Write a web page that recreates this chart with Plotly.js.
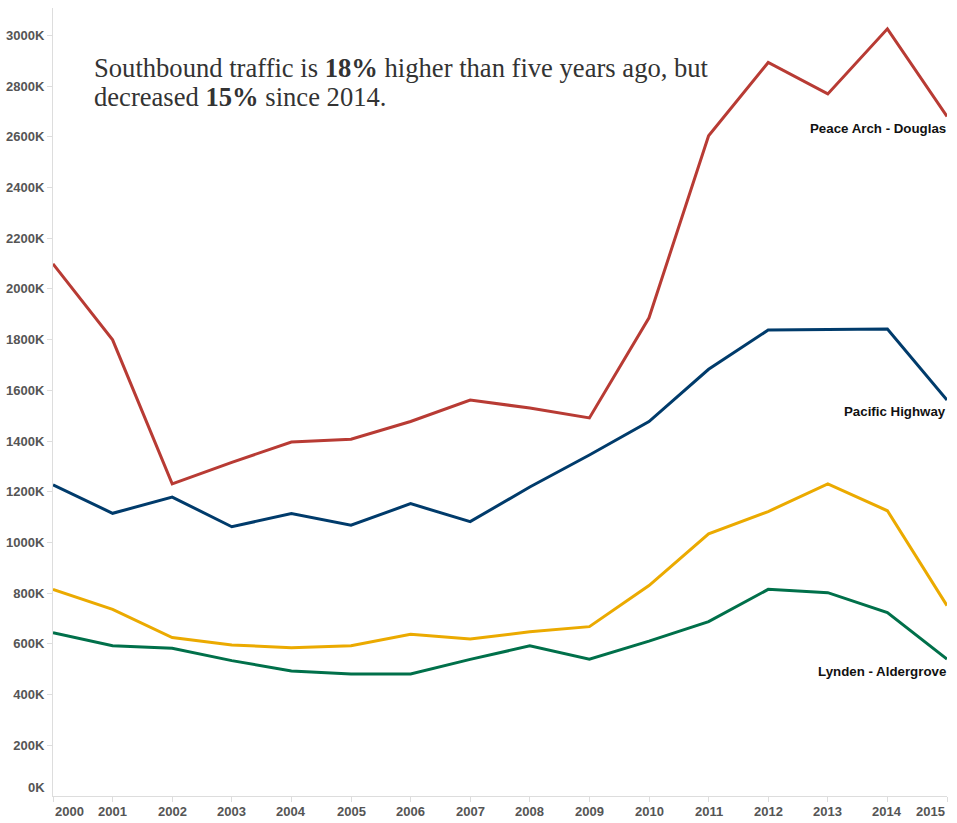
<!DOCTYPE html>
<html>
<head>
<meta charset="utf-8">
<script src="https://cdn.plot.ly/plotly-3.0.1.min.js"></script>
<style>html,body{margin:0;padding:0;background:#fff;}#chart{width:957px;height:823px;}</style>
</head>
<body>
<div id="chart"></div>
<script>
// Years (x categories)
const years = [2000, 2001, 2002, 2003, 2004, 2005, 2006, 2007, 2008, 2009, 2010, 2011, 2012, 2013, 2014, 2015];

// Southbound crossings, in thousands (K)
const peaceArch = [2099, 1799, 1231, 1316, 1396, 1407, 1477, 1562, 1530, 1491, 1886, 2604, 2893, 2769, 3026, 2680];
const pacificHighway = [1227, 1115, 1179, 1062, 1114, 1068, 1153, 1082, 1219, 1345, 1477, 1683, 1838, 1841, 1842, 1562];
const yellowSeries = [815, 736, 625, 596, 585, 593, 638, 619, 648, 668, 830, 1034, 1122, 1231, 1125, 751];
const lyndenAldergrove = [644, 593, 583, 534, 493, 481, 481, 539, 592, 540, 611, 688, 815, 802, 723, 540];

// Labels
const seriesNames = ["Peace Arch - Douglas", "Pacific Highway", "", "Lynden - Aldergrove"];
const headline1 = "Southbound traffic is <b>18%</b> higher than five years ago, but";
const headline2 = "decreased <b>15%</b> since 2014.";
const yTickVals = [200, 400, 600, 800, 1000, 1200, 1400, 1600, 1800, 2000, 2200, 2400, 2600, 2800, 3000];
const yZeroLabel = "0K";

const colors = ["#B83B34", "#003B6B", "#EBAA00", "#00704A"];
const seriesData = [peaceArch, pacificHighway, yellowSeries, lyndenAldergrove];

const traces = seriesData.map((vals, i) => ({
  x: years, y: vals, type: "scatter", mode: "lines",
  line: {color: colors[i], width: 3},
  name: seriesNames[i] || "series", hoverinfo: "skip", cliponaxis: false
}));
const ordered = [traces[3], traces[2], traces[1], traces[0]];

const tickFont = {family: "Liberation Sans, Arial, sans-serif", size: 13, color: "#555", weight: 700};
const last = years.length - 1;

const annotations = [];
// series end labels
seriesData.forEach((vals, i) => {
  if (!seriesNames[i]) return;
  annotations.push({
    x: years[last], y: vals[last], xref: "x", yref: "y",
    xanchor: "right", yanchor: "middle", yshift: -12, xshift: 1, showarrow: false,
    text: "<b>" + seriesNames[i] + "</b>",
    font: {family: "Liberation Sans, Arial, sans-serif", size: 13.3, color: "#111"}
  });
});
// x tick labels (edge labels shifted inward, as in the original)
years.forEach((yr, i) => {
  annotations.push({
    x: yr, y: 0, xref: "x", yref: "paper",
    xanchor: i === 0 ? "left" : (i === last ? "right" : "center"),
    yanchor: "top", yshift: -6, showarrow: false,
    text: "<b>" + yr + "</b>", font: tickFont
  });
});
// zero y label, shifted up
annotations.push({x: 0, y: 0, xref: "paper", yref: "y", xanchor: "right", yanchor: "bottom", xshift: -6, yshift: -1,
  showarrow: false, text: "<b>" + yZeroLabel + "</b>", font: tickFont});
// headline
const headFont = {family: "Liberation Serif, Times New Roman, serif", size: 26.6, color: "#333"};
annotations.push({x: 0.044, y: 0.924, xref: "paper", yref: "paper", xanchor: "left", yanchor: "middle",
  showarrow: false, text: headline1, font: headFont, align: "left"});
annotations.push({x: 0.044, y: 0.887, xref: "paper", yref: "paper", xanchor: "left", yanchor: "middle",
  showarrow: false, text: headline2, font: headFont, align: "left"});

const layout = {
  width: 957, height: 823,
  margin: {l: 53, r: 10, t: 8, b: 27},
  paper_bgcolor: "#fff", plot_bgcolor: "#fff",
  showlegend: false, hovermode: false,
  xaxis: {
    range: [years[0], years[last]], tickvals: years, showticklabels: false,
    showgrid: false, zeroline: false, showline: true, linecolor: "#ddd", linewidth: 1,
    ticks: "outside", ticklen: 5, tickcolor: "#ddd", fixedrange: true
  },
  yaxis: {
    range: [0, 3108], tickvals: yTickVals,
    ticktext: yTickVals.map(v => "<b>" + v + "K</b>"),
    showgrid: false, zeroline: false, showline: true, linecolor: "#ddd", linewidth: 1,
    ticks: "outside", ticklen: 5, tickcolor: "#ddd", tickfont: tickFont, fixedrange: true
  },
  annotations: annotations
};

Plotly.newPlot("chart", ordered, layout, {displayModeBar: false, staticPlot: true});
</script>
</body>
</html>
